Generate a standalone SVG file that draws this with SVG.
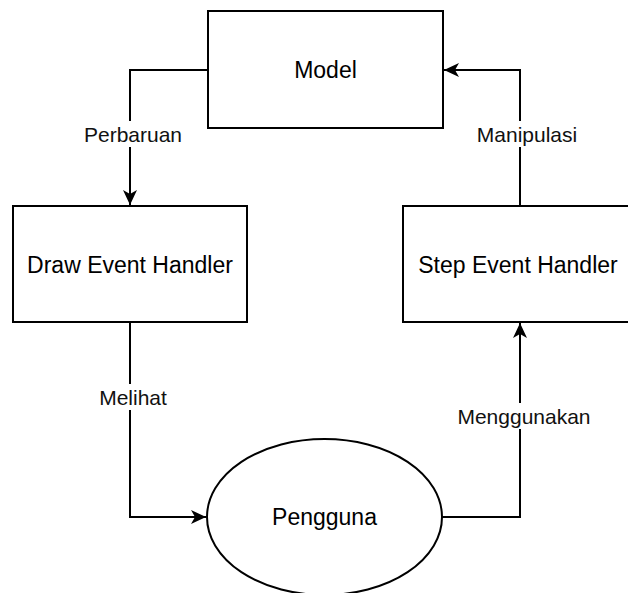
<svg xmlns="http://www.w3.org/2000/svg" width="628" height="593" viewBox="0 0 628 593">
<style>
.box{fill:#fff;stroke:#000;stroke-width:2}
.edge{fill:none;stroke:#000;stroke-width:2}
.node-t{font-family:"Liberation Sans",Arial,sans-serif;font-size:23px;fill:#000;text-anchor:middle;dominant-baseline:central}
.lbl{font-family:"Liberation Sans",Arial,sans-serif;font-size:21px;fill:#111;text-anchor:middle;dominant-baseline:central}
.lbg{fill:#fff}
</style>
<defs>
<marker id="arr" markerUnits="userSpaceOnUse" markerWidth="16" markerHeight="14" refX="15" refY="7" orient="auto">
<path d="M0,0 L15,7 L0,14 L4,7 Z" fill="#000"/>
</marker>
</defs>
<rect width="628" height="593" fill="#fff"/>
<g id="connectors">
<path class="edge" d="M208,70 H130 V205" marker-end="url(#arr)"/>
<path class="edge" d="M130,322 V517 H206" marker-end="url(#arr)"/>
<path class="edge" d="M442,517 H520 V323" marker-end="url(#arr)"/>
<path class="edge" d="M520,206 V70 H444" marker-end="url(#arr)"/>
<g id="label-perbaruan"><rect class="lbg" x="82" y="121" width="102" height="26"/><text class="lbl" x="133" y="134">Perbaruan</text></g>
<g id="label-melihat"><rect class="lbg" x="97" y="384" width="72" height="26"/><text class="lbl" x="133" y="397">Melihat</text></g>
<g id="label-manipulasi"><rect class="lbg" x="476" y="121" width="102" height="26"/><text class="lbl" x="527" y="134">Manipulasi</text></g>
<g id="label-menggunakan"><rect class="lbg" x="460" y="403" width="128" height="26"/><text class="lbl" x="524" y="416">Menggunakan</text></g>
</g>
<g id="model"><rect class="box" x="208" y="11" width="235" height="117"/><text class="node-t" x="325.5" y="70">Model</text></g>
<g id="draw-event-handler"><rect class="box" x="13" y="206" width="234" height="116"/><text class="node-t" x="130" y="265">Draw Event Handler</text></g>
<g id="step-event-handler"><rect class="box" x="403" y="206" width="234" height="116"/><text class="node-t" x="518" y="265">Step Event Handler</text></g>
<g id="pengguna"><ellipse class="box" cx="324.5" cy="517" rx="117.5" ry="78"/><text class="node-t" x="324.5" y="517">Pengguna</text></g>
</svg>
